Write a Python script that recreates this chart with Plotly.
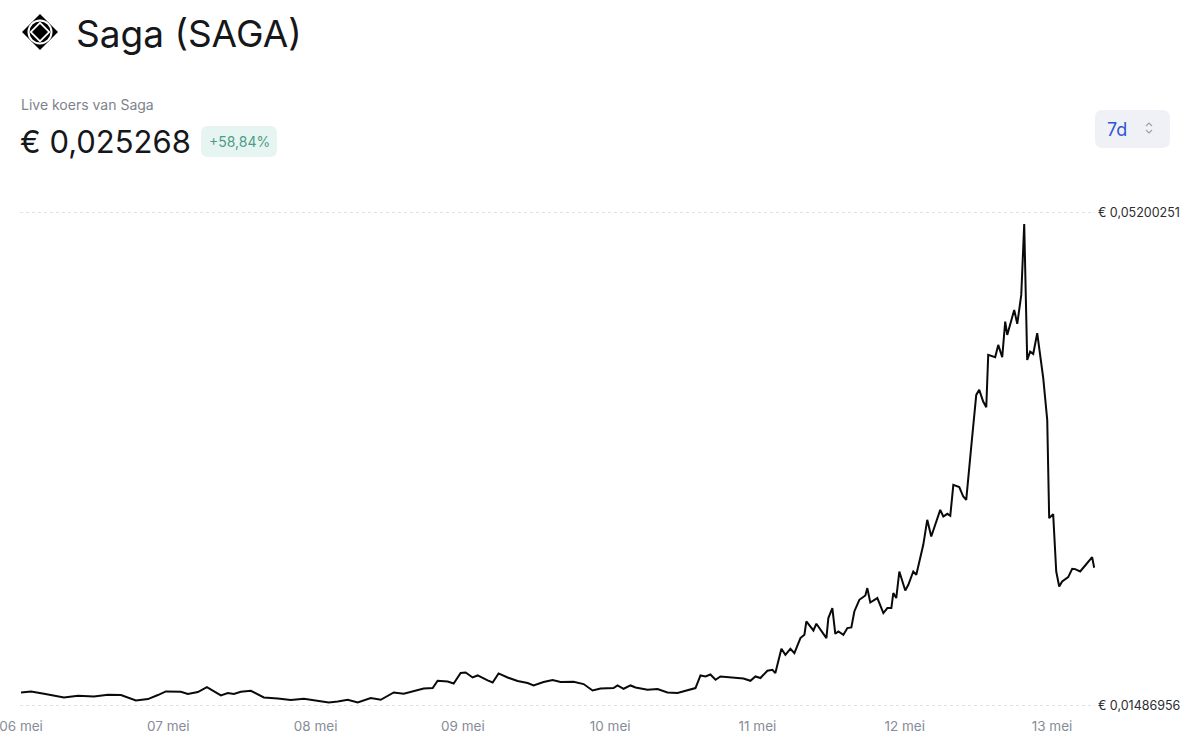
import plotly.graph_objects as go

# ── DATA ──────────────────────────────────────────────
times = [
    "2025-05-06 00:00", "2025-05-06 01:38", "2025-05-06 03:45", "2025-05-06 07:00",
    "2025-05-06 09:17", "2025-05-06 11:53", "2025-05-06 14:10", "2025-05-06 16:17",
    "2025-05-06 18:43", "2025-05-06 20:41", "2025-05-06 22:18", "2025-05-06 23:36",
    "2025-05-07 02:03", "2025-05-07 03:11", "2025-05-07 04:49", "2025-05-07 06:17",
    "2025-05-07 08:34", "2025-05-07 09:42", "2025-05-07 10:41", "2025-05-07 11:49",
    "2025-05-07 13:27", "2025-05-07 15:34", "2025-05-07 17:50", "2025-05-07 19:58",
    "2025-05-07 22:05", "2025-05-08 00:22", "2025-05-08 02:09", "2025-05-08 03:37",
    "2025-05-08 05:14", "2025-05-08 06:52", "2025-05-08 08:59", "2025-05-08 10:37",
    "2025-05-08 12:44", "2025-05-08 14:22", "2025-05-08 15:59", "2025-05-08 17:37",
    "2025-05-08 19:05", "2025-05-08 19:53", "2025-05-08 21:31", "2025-05-08 22:30",
    "2025-05-08 23:38", "2025-05-09 00:27", "2025-05-09 01:35", "2025-05-09 02:24",
    "2025-05-09 04:02", "2025-05-09 04:51", "2025-05-09 05:49", "2025-05-09 07:17",
    "2025-05-09 08:55", "2025-05-09 10:33", "2025-05-09 11:31", "2025-05-09 13:09",
    "2025-05-09 14:37", "2025-05-09 15:55", "2025-05-09 18:02", "2025-05-09 19:40",
    "2025-05-09 21:08", "2025-05-09 22:26", "2025-05-10 00:33", "2025-05-10 01:12",
    "2025-05-10 02:11", "2025-05-10 03:19", "2025-05-10 04:08", "2025-05-10 06:05",
    "2025-05-10 07:43", "2025-05-10 09:20", "2025-05-10 10:58", "2025-05-10 12:36",
    "2025-05-10 13:54", "2025-05-10 14:43", "2025-05-10 15:32", "2025-05-10 16:20",
    "2025-05-10 17:10", "2025-05-10 17:58", "2025-05-10 19:36", "2025-05-10 21:43",
    "2025-05-10 22:51", "2025-05-10 23:40", "2025-05-11 00:29", "2025-05-11 01:37",
    "2025-05-11 02:26", "2025-05-11 02:55", "2025-05-11 03:54", "2025-05-11 04:33",
    "2025-05-11 05:22", "2025-05-11 06:01", "2025-05-11 07:00", "2025-05-11 07:39",
    "2025-05-11 07:58", "2025-05-11 09:07", "2025-05-11 09:36", "2025-05-11 11:14",
    "2025-05-11 11:33", "2025-05-11 12:12", "2025-05-11 12:41", "2025-05-11 13:11",
    "2025-05-11 14:00", "2025-05-11 14:39", "2025-05-11 15:18", "2025-05-11 15:47",
    "2025-05-11 16:36", "2025-05-11 17:35", "2025-05-11 17:54", "2025-05-11 18:23",
    "2025-05-11 19:32", "2025-05-11 20:31", "2025-05-11 21:10", "2025-05-11 21:49",
    "2025-05-11 22:08", "2025-05-11 22:37", "2025-05-11 23:07", "2025-05-12 00:05",
    "2025-05-12 00:35", "2025-05-12 01:23", "2025-05-12 01:53", "2025-05-12 03:01",
    "2025-05-12 03:40", "2025-05-12 04:19", "2025-05-12 05:47", "2025-05-12 06:17",
    "2025-05-12 06:56", "2025-05-12 07:25", "2025-05-12 07:55", "2025-05-12 08:53",
    "2025-05-12 09:32", "2025-05-12 10:01", "2025-05-12 10:50", "2025-05-12 11:39",
    "2025-05-12 12:08", "2025-05-12 12:47", "2025-05-12 13:17", "2025-05-12 13:36",
    "2025-05-12 14:44", "2025-05-12 15:14", "2025-05-12 15:53", "2025-05-12 16:22",
    "2025-05-12 16:42", "2025-05-12 17:50", "2025-05-12 18:20", "2025-05-12 18:59",
    "2025-05-12 19:28", "2025-05-12 19:57", "2025-05-12 20:26", "2025-05-12 20:56",
    "2025-05-12 21:35", "2025-05-12 22:34", "2025-05-12 23:13", "2025-05-12 23:32",
    "2025-05-13 00:11", "2025-05-13 00:41", "2025-05-13 01:10", "2025-05-13 01:39",
    "2025-05-13 02:38", "2025-05-13 03:17", "2025-05-13 03:46", "2025-05-13 04:35",
    "2025-05-13 05:24", "2025-05-13 06:32", "2025-05-13 06:52",
]
prices = [
    0.015872, 0.015947, 0.015774, 0.015495, 0.015623, 0.015570, 0.015698, 0.015676,
    0.015269, 0.015374, 0.015676, 0.015947, 0.015924, 0.015751, 0.015901, 0.016278,
    0.015645, 0.015826, 0.015751, 0.015924, 0.016000, 0.015495, 0.015420, 0.015299,
    0.015397, 0.015246, 0.015118, 0.015194, 0.015322, 0.015118, 0.015450, 0.015322,
    0.015872, 0.015774, 0.015947, 0.016173, 0.016203, 0.016753, 0.016700, 0.016550,
    0.017333, 0.017378, 0.017002, 0.017152, 0.016776, 0.016625, 0.017303, 0.017002,
    0.016730, 0.016580, 0.016399, 0.016655, 0.016806, 0.016655, 0.016678, 0.016504,
    0.016022, 0.016173, 0.016203, 0.016399, 0.016150, 0.016399, 0.016248, 0.016075,
    0.016128, 0.015872, 0.015826, 0.016022, 0.016203, 0.017152, 0.017077, 0.017228,
    0.016828, 0.017077, 0.017002, 0.016926, 0.016753, 0.017077, 0.016956, 0.017506,
    0.017582, 0.017333, 0.019163, 0.018711, 0.019163, 0.018839, 0.019969, 0.020218,
    0.021220, 0.020542, 0.021046, 0.019969, 0.021476, 0.022229, 0.020293, 0.020466,
    0.020218, 0.020722, 0.020768, 0.021973, 0.022854, 0.023178, 0.023735, 0.022651,
    0.022982, 0.021852, 0.022229, 0.022229, 0.023359, 0.022982, 0.024985, 0.023554,
    0.023984, 0.024985, 0.024737, 0.026997, 0.028880, 0.027622, 0.029633, 0.029128,
    0.029331, 0.029181, 0.031516, 0.031342, 0.030634, 0.030386, 0.034401, 0.038295,
    0.038671, 0.037790, 0.037368, 0.041307, 0.041134, 0.042061, 0.041134, 0.043816,
    0.042814, 0.044697, 0.043642, 0.045827, 0.051174, 0.040931, 0.041556, 0.041383,
    0.042942, 0.039552, 0.036412, 0.029008, 0.029309, 0.024985, 0.023856, 0.024232,
    0.024564, 0.025189, 0.025166, 0.024985, 0.025437, 0.026070, 0.025268,
]
y_ticks = [0.01486956, 0.05200251]
y_labels = ["€ 0,01486956", "€ 0,05200251"]
day_ticks = ["2025-05-06", "2025-05-07", "2025-05-08", "2025-05-09",
             "2025-05-10", "2025-05-11", "2025-05-12", "2025-05-13"]
day_labels = ["06 mei", "07 mei", "08 mei", "09 mei",
              "10 mei", "11 mei", "12 mei", "13 mei"]
coin_name = "Saga (SAGA)"
live_label = "Live koers van Saga"
last_price = "€ 0,025268"
change_pct = "+58,84%"
period = "7d"

# ── LAYOUT HELPERS (pixel -> paper) ───────────────────
W, H = 1200, 747
M = dict(l=20, r=105, t=211, b=39)
PW, PH = W - M["l"] - M["r"], H - M["t"] - M["b"]
FONT = "Inter, Lato, sans-serif"

def px(x): return (x - M["l"]) / PW
def py(y): return (H - M["b"] - y) / PH

def rrect(x0, y0, x1, y1, r):
    pts = [("M", x0 + r, y0), ("L", x1 - r, y0), ("Q", x1, y0, x1, y0 + r),
           ("L", x1, y1 - r), ("Q", x1, y1, x1 - r, y1), ("L", x0 + r, y1),
           ("Q", x0, y1, x0, y1 - r), ("L", x0, y0 + r), ("Q", x0, y0, x0 + r, y0)]
    out = ""
    for p in pts:
        cmd, c = p[0], p[1:]
        xy = " ".join(f"{px(c[i]):.5f},{py(c[i+1]):.5f}" for i in range(0, len(c), 2))
        out += f"{cmd} {xy} "
    return out + "Z"

def poly(points, close=True):
    s = "M " + " L ".join(f"{px(x):.5f},{py(y):.5f}" for x, y in points)
    return s + (" Z" if close else "")

# ── FIGURE ────────────────────────────────────────────
fig = go.Figure()
fig.add_trace(go.Scatter(
    x=times, y=prices, mode="lines",
    line=dict(color="#0a0a0a", width=2), hoverinfo="skip", showlegend=False))

shapes = []
# coin icon
cx, cy = 40, 32
shapes.append(dict(type="path", fillcolor="black", line=dict(width=0),
                   path=poly([(cx, cy - 18), (cx + 18, cy), (cx, cy + 18), (cx - 18, cy)])))
shapes.append(dict(type="circle", fillcolor="white", line=dict(width=0),
                   x0=px(cx - 12.5), x1=px(cx + 12.5), y0=py(cy + 12.5), y1=py(cy - 12.5)))
shapes.append(dict(type="circle", fillcolor="black", line=dict(width=0),
                   x0=px(cx - 10.5), x1=px(cx + 10.5), y0=py(cy + 10.5), y1=py(cy - 10.5)))
shapes.append(dict(type="path", fillcolor="white", line=dict(width=0),
                   path=poly([(cx, cy - 10.5), (cx + 10.5, cy), (cx, cy + 10.5), (cx - 10.5, cy)])))
shapes.append(dict(type="path", fillcolor="black", line=dict(width=0),
                   path=poly([(cx, cy - 8), (cx + 8, cy), (cx, cy + 8), (cx - 8, cy)])))
# change badge
shapes.append(dict(type="path", fillcolor="#e6f5f1", line=dict(width=0),
                   path=rrect(201, 126, 277, 157, 7)))
# period button
shapes.append(dict(type="path", fillcolor="#eff1f6", line=dict(width=0),
                   path=rrect(1095, 110, 1170, 148, 8)))
shapes.append(dict(type="path", line=dict(color="#9aa1b5", width=1.2),
                   path=poly([(1146, 126), (1149, 123), (1152, 126)], close=False)))
shapes.append(dict(type="path", line=dict(color="#9aa1b5", width=1.2),
                   path=poly([(1146, 130), (1149, 133), (1152, 130)], close=False)))
for s in shapes:
    s.setdefault("xref", "paper")
    s.setdefault("yref", "paper")
    s.setdefault("layer", "above")

def note(text, x, y, size, color, anchor="left"):
    return dict(text=text, x=px(x), y=py(y), xref="paper", yref="paper",
                xanchor=anchor, yanchor="middle", showarrow=False,
                font=dict(family=FONT, size=size, color=color))

annotations = [
    note(coin_name, 74, 33, 37, "#15171a"),
    note(live_label, 19, 105, 14, "#7d828c"),
    note(last_price, 18, 141, 31, "#15171a"),
    note(change_pct, 239, 141, 14, "#4e9c85", anchor="center"),
    note(period, 1117, 129, 18, "#2f55d4", anchor="center"),
]

fig.update_layout(
    width=W, height=H, margin=M,
    paper_bgcolor="white", plot_bgcolor="white",
    shapes=shapes, annotations=annotations,
    font=dict(family=FONT),
    xaxis=dict(
        range=["2025-05-05 23:50", "2025-05-13 07:00"],
        tickvals=day_ticks, ticktext=day_labels, automargin=False,
        showgrid=False, zeroline=False, showline=False, ticks="",
        ticklabeloverflow="allow",
        tickfont=dict(size=13.5, color="#868c98"), ticklabelstandoff=8),
    yaxis=dict(
        range=[0.01470, 0.05215], side="right", automargin=False,
        tickvals=y_ticks, ticktext=y_labels,
        showgrid=True, gridcolor="#e2e2e2", griddash="3px,3px", gridwidth=1,
        zeroline=False, showline=False, ticks="",
        tickfont=dict(size=12.5, color="#2b2d31"), ticklabelstandoff=2),
)
fig.write_html("out.html", config={"displayModeBar": False},
               post_script="document.body.style.margin='0';")
